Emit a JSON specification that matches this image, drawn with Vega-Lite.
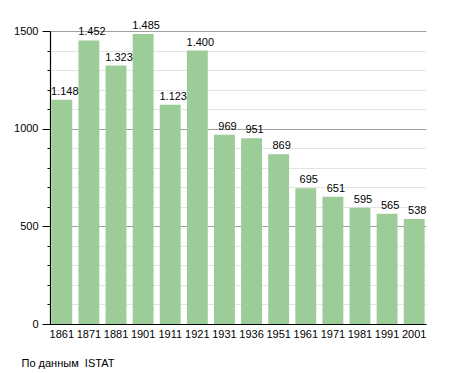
{
  "$schema": "https://vega.github.io/schema/vega-lite/v6.json",
  "width": 376,
  "height": 293,
  "autosize": {"type": "none"},
  "padding": {"left": 50, "top": 31, "right": 29, "bottom": 49},
  "background": "white",
  "config": {
    "view": {"stroke": null},
    "font": "Liberation Sans",
    "axis": {"labelFont": "Liberation Sans", "titleFont": "Liberation Sans", "labelColor": "black", "labelFontSize": 11}
  },
  "data": {
    "values": [
      {"year": "1861", "pop": 1148, "label": "1.148"},
      {"year": "1871", "pop": 1452, "label": "1.452"},
      {"year": "1881", "pop": 1323, "label": "1.323"},
      {"year": "1901", "pop": 1485, "label": "1.485"},
      {"year": "1911", "pop": 1123, "label": "1.123"},
      {"year": "1921", "pop": 1400, "label": "1.400"},
      {"year": "1931", "pop": 969, "label": "969"},
      {"year": "1936", "pop": 951, "label": "951"},
      {"year": "1951", "pop": 869, "label": "869"},
      {"year": "1961", "pop": 695, "label": "695"},
      {"year": "1971", "pop": 651, "label": "651"},
      {"year": "1981", "pop": 595, "label": "595"},
      {"year": "1991", "pop": 565, "label": "565"},
      {"year": "2001", "pop": 538, "label": "538"}
    ]
  },
  "encoding": {
    "x": {
      "field": "year",
      "type": "ordinal",
      "sort": null,
      "scale": {"paddingInner": 0.23, "paddingOuter": 0.05},
      "axis": {
        "title": "По данным\u00a0 ISTAT",
        "titleFontSize": 11,
        "titleFontWeight": "normal",
        "titleColor": "black",
        "titleAnchor": "start",
        "titleAlign": "left",
        "titleBaseline": "alphabetic",
        "titleX": -29,
        "titleY": 42,
        "labelAngle": 0,
        "ticks": false,
        "labelPadding": 4,
        "domainColor": "black",
        "domainWidth": 1.2
      }
    },
    "y": {
      "field": "pop",
      "type": "quantitative",
      "scale": {"domain": [0, 1500], "nice": false},
      "axis": {
        "title": null,
        "values": [0, 100, 200, 300, 400, 500, 600, 700, 800, 900, 1000, 1100, 1200, 1300, 1400, 1500],
        "labelExpr": "datum.value % 500 === 0 ? datum.value : ''",
        "gridColor": {"condition": {"test": "datum.value % 500 === 0", "value": "#a0a0a0"}, "value": "#e4e4e4"},
        "tickSize": {"condition": {"test": "datum.value % 500 === 0", "value": 8}, "value": 3},
        "tickColor": "black",
        "labelPadding": 4,
        "domainColor": "black",
        "domainWidth": 1.2
      }
    }
  },
  "layer": [
    {"mark": {"type": "bar", "color": "#9ccc98"}},
    {
      "mark": {"type": "text", "baseline": "alphabetic", "dy": -5, "dx": 3, "fontSize": 11, "color": "black", "font": "Liberation Sans"},
      "encoding": {"text": {"field": "label"}}
    }
  ]
}
